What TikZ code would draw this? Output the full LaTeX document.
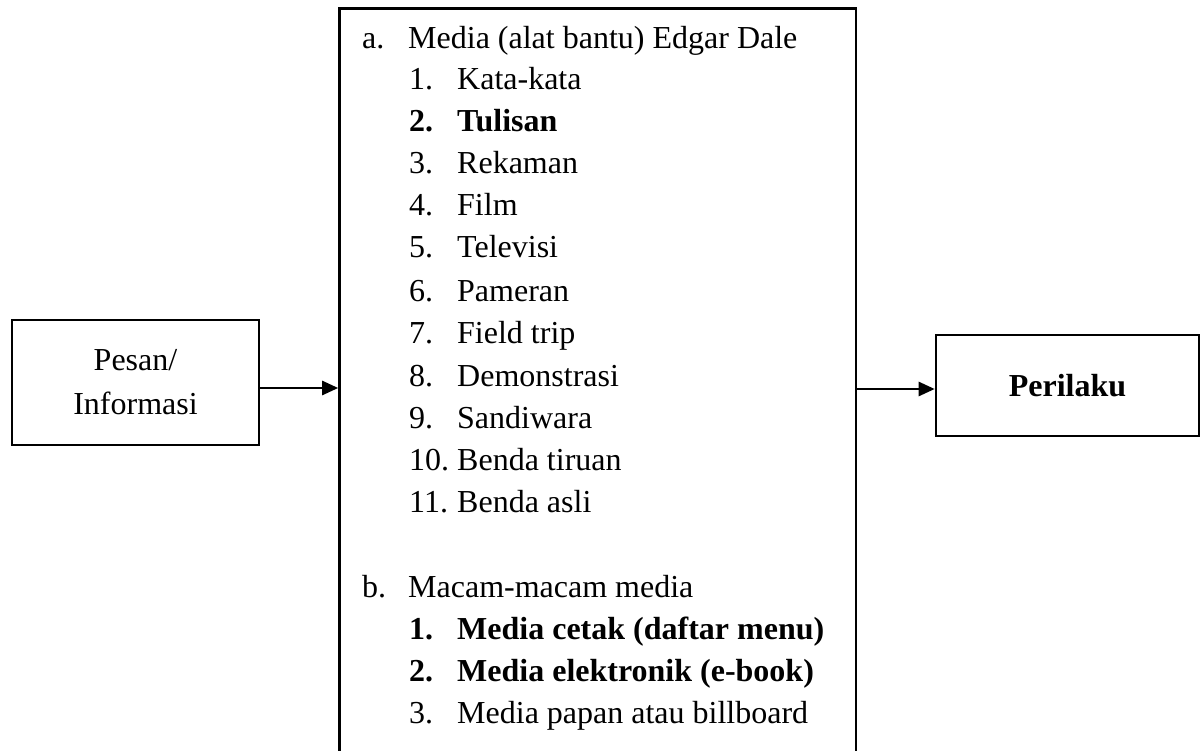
\documentclass[tikz,border=0pt]{standalone}
\usepackage{fontspec}
\setmainfont{Liberation Serif}
\usetikzlibrary{arrows.meta}
\newcommand\bodyfont{\fontsize{32}{44}\selectfont}
\tikzset{
  frame/.style={draw, line width=2.6pt, inner sep=0pt, font=\bodyfont, align=center},
  lbl/.style={anchor=base west, inner sep=0pt, font=\bodyfont},
  flow/.style={line width=2.6pt, -{Triangle[length=16pt, width=14pt]}},
}
\begin{document}
\begin{tikzpicture}[x=1pt, y=-1pt]
  \useasboundingbox (0,0) rectangle (1202,751);
  \clip (0,0) rectangle (1202,751);

  % three boxes
  \node[frame, minimum width=247pt, minimum height=125pt] (pesan) at (135.5,382.5) {Pesan/\\Informasi};
  \node[frame, minimum width=516.5pt, minimum height=781.5pt] (media) at (597.75,399.25) {};
  \node[frame, minimum width=263pt, minimum height=101pt, font=\bodyfont\bfseries] (perilaku) at (1067.5,385.5) {Perilaku};

  % connectors
  \coordinate (inlevel) at (0,388);
  \coordinate (outlevel) at (0,389);
  \draw[flow] (inlevel -| pesan.east) -- (inlevel -| media.west);
  \draw[flow] (outlevel -| media.east) -- (outlevel -| perilaku.west);

  % section a
  \node[lbl] (ha) at (362,48.3) {a.};
  \node[lbl] (ta) at (408,48.3) {Media (alat bantu) Edgar Dale};
  \node[lbl] (n1) at (409,89.5) {1.};   \node[lbl] (t1) at (457,89.5) {Kata-kata};
  \node[lbl,font=\bodyfont\bfseries] (n2) at (409,131.7) {2.};
  \node[lbl,font=\bodyfont\bfseries] (t2) at (457,131.7) {Tulisan};
  \node[lbl] (n3) at (409,173.5) {3.};  \node[lbl] (t3) at (457,173.5) {Rekaman};
  \node[lbl] (n4) at (409,215.5) {4.};  \node[lbl] (t4) at (457,215.5) {Film};
  \node[lbl] (n5) at (409,258) {5.};    \node[lbl] (t5) at (457,258) {Televisi};
  \node[lbl] (n6) at (409,301.5) {6.};  \node[lbl] (t6) at (457,301.5) {Pameran};
  \node[lbl] (n7) at (409,344) {7.};    \node[lbl] (t7) at (457,344) {Field trip};
  \node[lbl] (n8) at (409,386.5) {8.};  \node[lbl] (t8) at (457,386.5) {Demonstrasi};
  \node[lbl] (n9) at (409,428) {9.};    \node[lbl] (t9) at (457,428) {Sandiwara};
  \node[lbl] (n10) at (409,470) {10.};  \node[lbl] (t10) at (457,470) {Benda tiruan};
  \node[lbl] (n11) at (409,512.5) {11.};\node[lbl] (t11) at (457,512.5) {Benda asli};

  % section b
  \node[lbl] (hb) at (362,597.5) {b.};
  \node[lbl] (tb) at (408,597.5) {Macam-macam media};
  \node[lbl,font=\bodyfont\bfseries] (m1) at (409,639) {1.};
  \node[lbl,font=\bodyfont\bfseries] (u1) at (457,639) {Media cetak (daftar menu)};
  \node[lbl,font=\bodyfont\bfseries] (m2) at (409,681.5) {2.};
  \node[lbl,font=\bodyfont\bfseries] (u2) at (457,681.5) {Media elektronik (e-book)};
  \node[lbl] (m3) at (409,723) {3.};    \node[lbl] (u3) at (457,723) {Media papan atau billboard};
\end{tikzpicture}
\end{document}
